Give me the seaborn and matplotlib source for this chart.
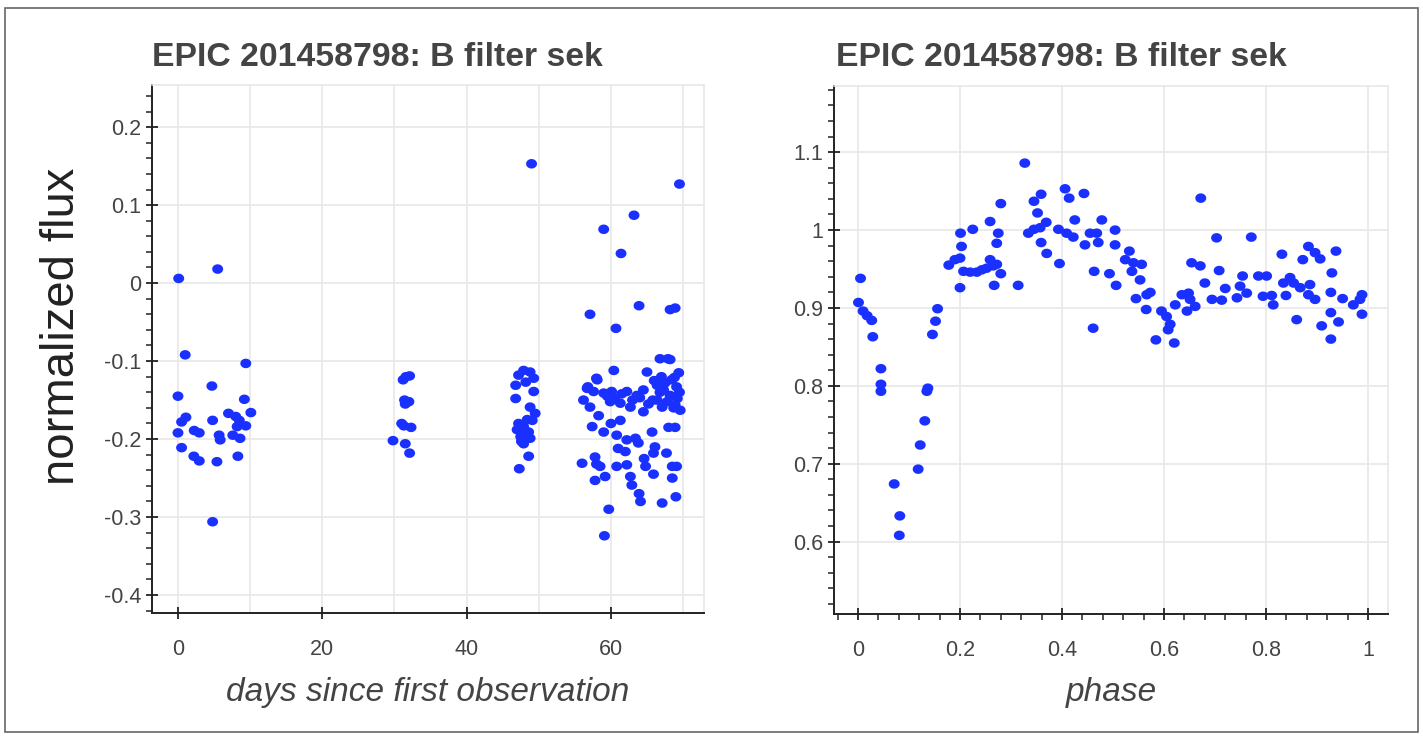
import numpy as np
import pandas as pd
import seaborn as sns
import matplotlib
matplotlib.use("Agg")
import matplotlib.pyplot as plt
from matplotlib.path import Path
from matplotlib.ticker import MultipleLocator, FixedLocator, FuncFormatter
from matplotlib.patches import Rectangle

# ---------------- data ----------------
days = [0.1, 5.5, 1.0, 9.4, 4.7, 0.0, 1.1, 0.5, 0.0, 2.25, 2.95, 4.8, 5.7, 5.85, 7.0, 8.0, 9.2,
        10.1, 9.4, 8.2, 7.6, 8.6, 8.5, 0.5, 2.2, 2.95, 5.4, 8.3, 4.8,
        31.6, 32.1, 31.2, 31.4, 32.0, 31.5, 31.0, 32.3, 31.3, 29.8, 31.5, 32.1,
        49.0, 47.9, 48.8, 47.2, 49.3, 46.8, 48.2, 49.3, 46.8, 48.8, 49.5, 49.1, 47.0, 47.9, 48.6,
        47.5, 48.8, 47.9, 48.6, 47.3, 47.2, 48.2, 47.6, 48.4,
        69.5, 63.2, 59.0, 61.4, 57.1, 63.9, 68.2, 68.9, 60.7,
        66.8, 68.2, 60.4, 65.0, 69.4, 58.1, 56.7, 57.6, 59.0, 60.1, 62.2, 63.6, 64.5, 66.4, 67.3,
        68.4, 69.1,
        56.2, 57.1, 59.9, 61.3, 62.7, 64.5, 66.4, 67.8, 68.9, 69.6, 68.2, 67.1,
        61.3, 57.4, 59.0, 60.8, 65.7, 68.0, 68.9, 62.2, 63.4, 66.1, 62.0, 65.9, 67.7,
        56.0, 57.8, 58.5, 60.8, 62.2, 64.8, 68.5, 69.1, 65.9, 68.5, 57.8, 59.2, 62.7, 62.9,
        63.9, 64.1, 67.1, 69.0, 59.7, 59.1,
        56.8, 58.0, 67.9, 66.0, 66.8, 67.5, 68.7, 69.2, 65.8, 67.0, 68.8, 69.5, 59.5, 60.5,
        61.5, 63.0, 64.0, 65.2, 58.3, 60.0, 63.8, 64.6, 58.0, 61.0]
flux = [0.006, 0.018, -0.092, -0.103, -0.132, -0.145, -0.172, -0.178, -0.192, -0.189, -0.192,
        -0.176, -0.195, -0.201, -0.167, -0.171, -0.149, -0.166, -0.183, -0.184, -0.195, -0.199,
        -0.176, -0.211, -0.222, -0.228, -0.229, -0.222, -0.306,
        -0.120, -0.119, -0.124, -0.150, -0.152, -0.155, -0.180, -0.185, -0.183, -0.202, -0.206,
        -0.218,
        0.153, -0.112, -0.114, -0.118, -0.122, -0.131, -0.127, -0.139, -0.148, -0.159, -0.167,
        -0.176, -0.188, -0.184, -0.191, -0.197, -0.199, -0.206, -0.222, -0.238, -0.180, -0.190,
        -0.203, -0.175,
        0.127, 0.087, 0.069, 0.038, -0.040, -0.029, -0.034, -0.032, -0.058,
        -0.097, -0.098, -0.112, -0.114, -0.115, -0.124, -0.135, -0.139, -0.141, -0.139, -0.139,
        -0.144, -0.137, -0.131, -0.137, -0.124, -0.133,
        -0.150, -0.159, -0.152, -0.154, -0.159, -0.165, -0.150, -0.152, -0.156, -0.163, -0.144,
        -0.159,
        -0.176, -0.184, -0.191, -0.195, -0.191, -0.185, -0.185, -0.201, -0.199, -0.210, -0.216,
        -0.218, -0.218,
        -0.231, -0.223, -0.235, -0.235, -0.233, -0.235, -0.235, -0.235, -0.245, -0.250, -0.253,
        -0.248, -0.248, -0.259, -0.270, -0.280, -0.282, -0.274, -0.290, -0.324,
        -0.133, -0.122, -0.097, -0.125, -0.140, -0.128, -0.160, -0.148, -0.150, -0.120, -0.121,
        -0.140, -0.145, -0.148, -0.142, -0.150, -0.147, -0.155, -0.170, -0.180, -0.205, -0.225,
        -0.232, -0.212]

phase = [0.005, 0.001, 0.010, 0.018, 0.027, 0.029, 0.045, 0.045, 0.045, 0.071, 0.082, 0.081,
         0.118, 0.122, 0.131, 0.135, 0.137, 0.146, 0.152, 0.156, 0.178, 0.190, 0.200, 0.200,
         0.203, 0.201, 0.225, 0.207, 0.220, 0.233, 0.243, 0.252, 0.265, 0.259, 0.272, 0.280,
         0.259, 0.275, 0.272, 0.280, 0.267, 0.314, 0.327, 0.334, 0.345, 0.359, 0.352, 0.369,
         0.357, 0.345, 0.359, 0.370, 0.393, 0.406, 0.414, 0.443, 0.395, 0.409, 0.425, 0.422,
         0.445, 0.455, 0.468, 0.478, 0.471, 0.463, 0.461, 0.493, 0.504, 0.504, 0.506,
         0.532, 0.524, 0.540, 0.556, 0.537, 0.553, 0.573, 0.566, 0.545, 0.565, 0.595, 0.584,
         0.605, 0.612, 0.608, 0.620, 0.622, 0.635, 0.648, 0.645, 0.661, 0.651, 0.654, 0.671,
         0.672, 0.680, 0.694, 0.713, 0.703, 0.708, 0.720, 0.743, 0.749, 0.754, 0.762, 0.771,
         0.785, 0.801, 0.794, 0.814, 0.811, 0.831, 0.834, 0.847, 0.854, 0.839, 0.860, 0.872,
         0.883, 0.896, 0.906, 0.867, 0.886, 0.883, 0.896, 0.909, 0.937, 0.929, 0.927, 0.927,
         0.942, 0.927, 0.950, 0.971, 0.988, 0.988, 0.984]
phase_flux = [0.938, 0.907, 0.896, 0.890, 0.884, 0.863, 0.822, 0.802, 0.793, 0.674, 0.633, 0.608,
              0.693, 0.724, 0.755, 0.793, 0.797, 0.866, 0.883, 0.899, 0.955, 0.962, 0.964, 0.926,
              0.979, 0.996, 1.001, 0.947, 0.946, 0.946, 0.949, 0.951, 0.954, 0.962, 0.956, 0.944,
              1.011, 0.996, 0.983, 1.034, 0.929, 0.929, 1.086, 0.996, 1.037, 1.046, 1.022, 1.010,
              1.003, 1.001, 0.984, 0.970, 1.001, 1.053, 1.041, 1.047, 0.957, 0.996, 1.013, 0.991,
              0.981, 0.996, 0.996, 1.013, 0.984, 0.947, 0.874, 0.944, 1.000, 0.981, 0.929,
              0.973, 0.962, 0.958, 0.956, 0.947, 0.936, 0.920, 0.917, 0.912, 0.898, 0.896, 0.859,
              0.889, 0.879, 0.872, 0.855, 0.904, 0.917, 0.919, 0.896, 0.902, 0.911, 0.958, 0.954,
              1.041, 0.932, 0.911, 0.910, 0.990, 0.948, 0.925, 0.913, 0.928, 0.941, 0.919, 0.991,
              0.941, 0.941, 0.915, 0.904, 0.916, 0.969, 0.932, 0.939, 0.932, 0.916, 0.885, 0.962,
              0.979, 0.971, 0.963, 0.926, 0.930, 0.917, 0.911, 0.877, 0.973, 0.945, 0.920, 0.894,
              0.882, 0.860, 0.912, 0.904, 0.917, 0.892, 0.911]

days_ticks = [0, 20, 40, 60]
days_grid = [0, 10, 20, 30, 40, 50, 60, 70]
flux_ticks = [-0.4, -0.3, -0.2, -0.1, 0, 0.1, 0.2]
phase_ticks = [0, 0.2, 0.4, 0.6, 0.8, 1]
pflux_ticks = [0.6, 0.7, 0.8, 0.9, 1.0, 1.1]
title_text = "EPIC 201458798: B filter sek"
left_xlabel = "days since first observation"
right_xlabel = "phase"
ylabel_text = "normalized flux"

df_time = pd.DataFrame({"days": days, "flux": flux})
df_phase = pd.DataFrame({"phase": phase, "flux": phase_flux})

# ---------------- style ----------------
sns.set_style("white")
plt.rcParams["font.family"] = ["Liberation Sans", "DejaVu Sans"]

W, H = 1423, 736
fig = plt.figure(figsize=(W / 100, H / 100), dpi=100)
fig.patch.set_facecolor("white")

ax1 = fig.add_axes([152 / W, 1 - 613 / H, 552 / W, 528 / H])
ax2 = fig.add_axes([834 / W, 1 - 614 / H, 554 / W, 528 / H])

# slightly wide elliptical dot (reference is horizontally stretched)
theta = np.linspace(0, 2 * np.pi, 60)
ell = Path(np.column_stack([np.cos(theta), 0.87 * np.sin(theta)]), closed=True)
dot_color = "#1a30ff"

sns.scatterplot(data=df_time, x="days", y="flux", ax=ax1, marker=ell, s=62,
                color=dot_color, edgecolor="none", linewidth=0, legend=False)
sns.scatterplot(data=df_phase, x="phase", y="flux", ax=ax2, marker=ell, s=62,
                color=dot_color, edgecolor="none", linewidth=0, legend=False)

fmt = FuncFormatter(lambda v, p: f"{round(v, 6):g}")

ax1.set_xlim(-3.6, 72.9)
ax1.set_ylim(-0.423, 0.254)
ax2.set_xlim(-0.047, 1.039)
ax2.set_ylim(0.507, 1.185)

ax1.xaxis.set_major_locator(FixedLocator(days_ticks))
ax1.xaxis.set_minor_locator(FixedLocator(days_grid))
ax1.yaxis.set_major_locator(FixedLocator(flux_ticks))
ax1.yaxis.set_minor_locator(MultipleLocator(0.02))
ax2.xaxis.set_major_locator(FixedLocator(phase_ticks))
ax2.xaxis.set_minor_locator(MultipleLocator(0.04))
ax2.yaxis.set_major_locator(FixedLocator(pflux_ticks))
ax2.yaxis.set_minor_locator(MultipleLocator(0.02))

grid_c = "#e6e6e6"
for ax in (ax1, ax2):
    ax.xaxis.set_major_formatter(fmt)
    ax.yaxis.set_major_formatter(fmt)
    ax.set_xlabel("")
    ax.set_ylabel("")
    ax.set_facecolor("white")
    ax.grid(True, which="major", color=grid_c, linewidth=1.1)
    ax.set_axisbelow(True)
    for s in ("left", "bottom"):
        ax.spines[s].set_color("#222222")
        ax.spines[s].set_linewidth(1.4)
    for s in ("top", "right"):
        ax.spines[s].set_color(grid_c)
        ax.spines[s].set_linewidth(1.1)
    ax.tick_params(which="both", bottom=True, left=True, top=False, right=False)
    ax.tick_params(which="major", direction="inout", length=9, width=1.3, color="#222222",
                   labelsize=15.5, labelcolor="#444444")
    ax.tick_params(which="minor", direction="out", length=4.5, width=1.1, color="#222222")
    ax.tick_params(axis="y", which="major", pad=3)
    ax.tick_params(axis="x", which="major", pad=14)

# left plot: gridlines every 10 days, no minor tick marks on x
ax1.grid(True, which="minor", axis="x", color=grid_c, linewidth=1.1)
ax1.tick_params(axis="x", which="minor", length=0)

# titles
for xpx in (152, 836):
    fig.text(xpx / W, 1 - 58 / H, title_text, fontsize=24.3, fontweight="bold",
             color="#444444", ha="left", va="center")

# axis labels
fig.text(62 / W, 1 - 326 / H, ylabel_text, rotation=90, fontsize=34, color="#222222",
         ha="center", va="center")
fig.text(428 / W, 1 - 693 / H, left_xlabel, fontsize=24, fontstyle="italic",
         color="#444444", ha="center", va="center")
fig.text(1111 / W, 1 - 693 / H, right_xlabel, fontsize=24, fontstyle="italic",
         color="#444444", ha="center", va="center")

# outer frame of the screenshot
fig.patches.append(Rectangle((5 / W, 4 / H), 1413 / W, 724 / H, transform=fig.transFigure,
                             fill=False, edgecolor="#666666", linewidth=1.2))

fig.savefig("out.png", dpi=100, facecolor="white")
